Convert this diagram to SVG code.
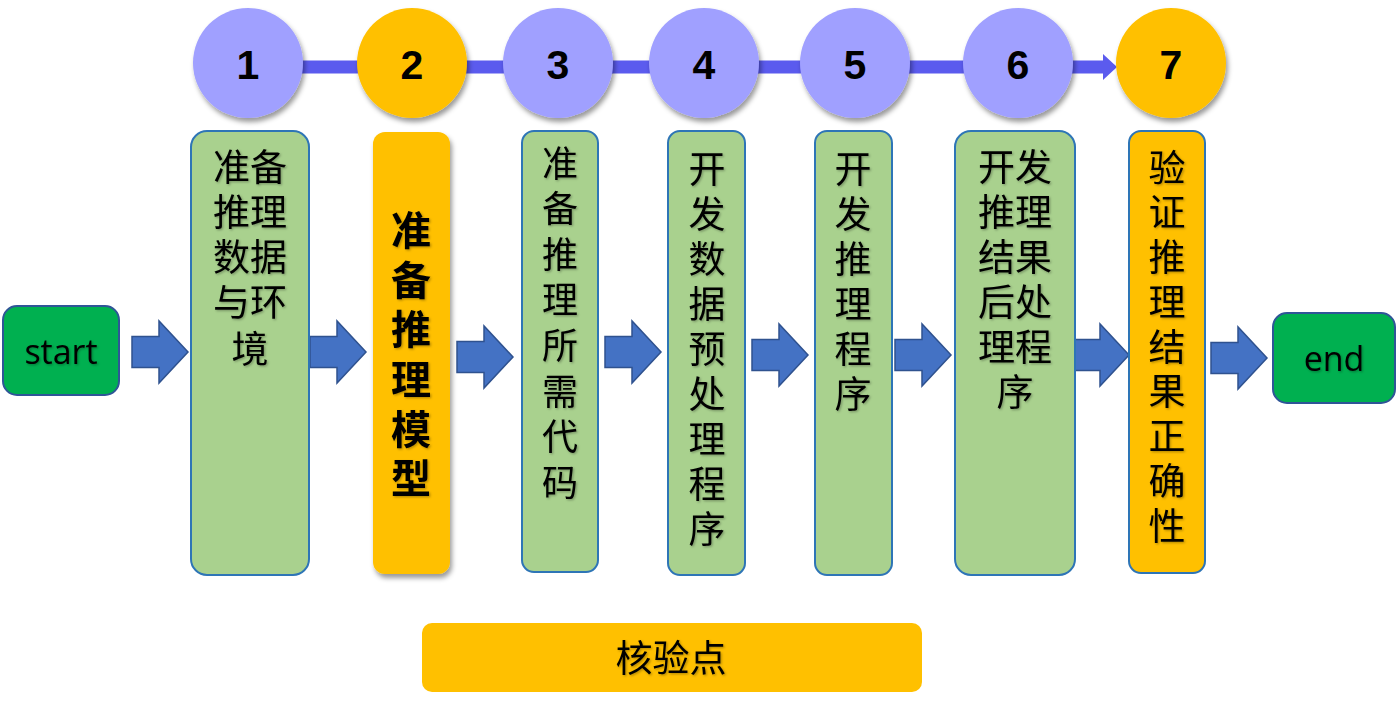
<svg xmlns="http://www.w3.org/2000/svg" width="1397" height="706" viewBox="0 0 1397 706">
  <defs>
    <filter id="shadow" x="-20%" y="-20%" width="150%" height="150%">
      <feDropShadow dx="2" dy="4" stdDeviation="2.5" flood-color="#000" flood-opacity="0.4"/>
    </filter>
    <filter id="txtShadow" x="-10%" y="-10%" width="130%" height="130%">
      <feDropShadow dx="1.2" dy="1.2" stdDeviation="0.8" flood-color="#000" flood-opacity="0.3"/>
    </filter>
    <path id="blockArrow" d="M0,-15.5 H27 V-31 L56,0 L27,31 V15.5 H0 Z"/>
  </defs>
  <style>
    .step { fill: #A0A0FF; filter: url(#shadow); }
    .key { fill: #FFC000; filter: url(#shadow); }
    .num { font-family: "Liberation Sans", Arial, sans-serif; font-weight: bold; font-size: 41px; fill: #000; text-anchor: middle; }
    .box { fill: #A9D18E; stroke: #2E75B6; stroke-width: 2; }
    .boxKey { fill: #FFC000; stroke: #2E75B6; stroke-width: 2; }
    .cjk { font-family: "Liberation Sans", "Noto Sans CJK SC", sans-serif; font-size: 37px; fill: #000; text-anchor: middle; filter: url(#txtShadow); }
    .col { font-family: "Noto Sans CJK SC", sans-serif; font-size: 37px; fill: #000; writing-mode: vertical-rl; text-orientation: upright; filter: url(#txtShadow); }
    .bold { font-weight: bold; font-size: 40px; }
    .term { fill: #00B050; stroke: #2F5597; stroke-width: 2; }
    .lat { font-family: "Open Sans", "Liberation Sans", sans-serif; font-size: 34px; fill: #000; text-anchor: middle; filter: url(#txtShadow); }
    .arrow { fill: #4472C4; stroke: #2F528F; stroke-width: 1.5; }
  </style>

  <!-- timeline connectors -->
  <g id="connectors">
    <line x1="248" y1="67" x2="1104" y2="67" stroke="#5B5BEE" stroke-width="13"/>
    <polygon points="1103,54 1117,67 1103,80" fill="#5B5BEE"/>
    <use href="#blockArrow" class="arrow" x="132" y="352"/>
    <use href="#blockArrow" class="arrow" x="310" y="352"/>
    <use href="#blockArrow" class="arrow" x="457" y="357"/>
    <use href="#blockArrow" class="arrow" x="605" y="352"/>
    <use href="#blockArrow" class="arrow" x="752" y="355"/>
    <use href="#blockArrow" class="arrow" x="895" y="355"/>
    <use href="#blockArrow" class="arrow" x="1073" y="355"/>
    <use href="#blockArrow" class="arrow" x="1211" y="358"/>
  </g>

  <!-- step number circles -->
  <g id="step1"><ellipse class="step" cx="248" cy="63" rx="55" ry="55"/><text class="num" x="248" y="79">1</text></g>
  <g id="step2"><ellipse class="key" cx="412" cy="63" rx="55" ry="55"/><text class="num" x="412" y="79">2</text></g>
  <g id="step3"><ellipse class="step" cx="558" cy="63" rx="55" ry="55"/><text class="num" x="558" y="79">3</text></g>
  <g id="step4"><ellipse class="step" cx="704" cy="63" rx="55" ry="55"/><text class="num" x="704" y="79">4</text></g>
  <g id="step5"><ellipse class="step" cx="855" cy="63" rx="55" ry="55"/><text class="num" x="855" y="79">5</text></g>
  <g id="step6"><ellipse class="step" cx="1018" cy="63" rx="55" ry="55"/><text class="num" x="1018" y="79">6</text></g>
  <g id="step7"><ellipse class="key" cx="1171" cy="63" rx="55" ry="55"/><text class="num" x="1171" y="79">7</text></g>

  <!-- start / end -->
  <g id="start">
    <rect class="term" x="3" y="306" width="116" height="89" rx="14"/>
    <text class="lat" x="61" y="364">start</text>
  </g>
  <g id="end">
    <rect class="term" x="1273" y="313" width="122" height="90" rx="14"/>
    <text class="lat" x="1334" y="371">end</text>
  </g>

  <!-- task 1 -->
  <g id="task1">
    <rect class="box" x="191" y="131" width="118" height="444" rx="16"/>
    <text class="cjk" x="250" y="181">准备</text>
    <text class="cjk" x="250" y="226">推理</text>
    <text class="cjk" x="250" y="271">数据</text>
    <text class="cjk" x="250" y="316">与环</text>
    <text class="cjk" x="250" y="363">境</text>
  </g>

  <!-- task 2 -->
  <g id="task2">
    <rect x="373" y="132" width="77" height="442" rx="12" fill="#FFC000" filter="url(#shadow)"/>
    <text class="col bold" x="411" y="210" letter-spacing="9.6">准备推理模型</text>
  </g>

  <!-- task 3 -->
  <g id="task3">
    <rect class="box" x="522" y="131" width="76" height="441" rx="12"/>
    <text class="col" x="560" y="145" style="font-size:36px" letter-spacing="9.6">准备推理所需代码</text>
  </g>

  <!-- task 4 -->
  <g id="task4">
    <rect class="box" x="668" y="131" width="77" height="444" rx="12"/>
    <text class="col" x="707" y="150" letter-spacing="8">开发数据预处理程序</text>
  </g>

  <!-- task 5 -->
  <g id="task5">
    <rect class="box" x="815" y="131" width="77" height="444" rx="12"/>
    <text class="col" x="853" y="150" letter-spacing="8">开发推理程序</text>
  </g>

  <!-- task 6 -->
  <g id="task6">
    <rect class="box" x="955" y="131" width="120" height="444" rx="16"/>
    <text class="cjk" x="1015" y="181">开发</text>
    <text class="cjk" x="1015" y="226">推理</text>
    <text class="cjk" x="1015" y="271">结果</text>
    <text class="cjk" x="1015" y="316">后处</text>
    <text class="cjk" x="1015" y="361">理程</text>
    <text class="cjk" x="1015" y="406">序</text>
  </g>

  <!-- task 7 -->
  <g id="task7">
    <rect class="boxKey" x="1129" y="131" width="76" height="442" rx="12"/>
    <text class="col" x="1167" y="149" letter-spacing="7.75">验证推理结果正确性</text>
  </g>

  <!-- legend bar -->
  <g id="legend">
    <rect x="422" y="623" width="500" height="69" rx="10" fill="#FFC000"/>
    <text class="cjk" x="671" y="672">核验点</text>
  </g>
</svg>
